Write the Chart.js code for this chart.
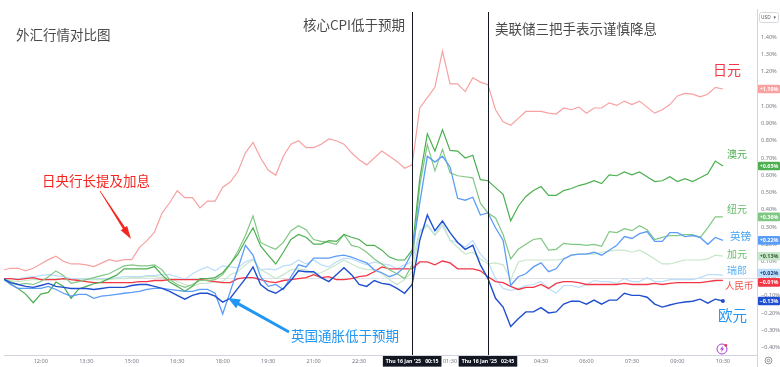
<!DOCTYPE html>
<html><head><meta charset="utf-8">
<script src="https://cdn.jsdelivr.net/npm/chart.js@4.4.1/dist/chart.umd.min.js"></script>
<style>html,body{margin:0;padding:0;background:#fff;}canvas{display:block;}</style>
</head><body>
<canvas id="c" width="780" height="367" style="width:780px;height:367px"></canvas>
<script>
// 15-minute samples starting 15 Jan 10:45 (index 0) to 16 Jan 10:30 (index 95)
const tickIdx = [5,11,17,23,29,35,41,47,54,59,64,71,77,83,89,95];
const tickLabels = ['12:00','13:30','15:00','16:30','18:00','19:30','21:00','22:30',"Thu 16 Jan '25   00:15",'01:30',"Thu 16 Jan '25   02:45",'04:30','06:00','07:30','09:00','10:30'];
const boxedTicks = [54,64];
const eventIdx = [54,64];
const yTicks = [1.4,1.3,1.2,1.1,1.0,0.9,0.8,0.7,0.6,0.5,0.4,0.3,0.2,0.1,0,-0.1,-0.2,-0.3,-0.4];

const jpy = [0.05,0.06,0.06,0.045,0.06,0.085,0.11,0.13,0.10,0.085, 0.085,0.08,0.07,0.09,0.11,0.10,0.11,0.11,0.18,0.22, 0.27,0.38,0.44,0.51,0.47,0.47,0.41,0.45,0.45,0.53, 0.56,0.62,0.73,0.79,0.70,0.63,0.60,0.71,0.78,0.80, 0.76,0.76,0.78,0.81,0.80,0.78,0.73,0.69,0.66,0.70, 0.74,0.71,0.68,0.64,0.66,0.99,1.05,1.11,1.32,1.13, 1.13,1.085,1.165,1.14,1.125,0.98,0.91,0.89,0.93,0.97, 0.97,0.97,0.96,0.955,0.99,0.98,0.995,0.96,0.99,0.99, 1.02,1.005,1.03,1.01,1.03,0.995,0.96,0.98,1.01,1.06, 1.075,1.07,1.055,1.07,1.11,1.10];
const aud = [0,-0.03,-0.057,-0.09,-0.14,-0.09,-0.08,-0.02,-0.045,-0.115, -0.06,-0.045,-0.03,-0.02,0,0.02,0.057,0.057,0.057,0.057, 0.07,0.02,-0.02,-0.045,-0.074,-0.045,0,0,0.006,0.034, 0.085,0.14,0.22,0.295,0.19,0.136,0.085,0.153,0.227,0.256, 0.24,0.2,0.2,0.22,0.216,0.256,0.24,0.227,0.193,0.193, 0.165,0.125,0.108,0.108,0.165,0.58,0.84,0.74,0.864,0.744, 0.74,0.70,0.716,0.574,0.568,0.528,0.489,0.335,0.42,0.477, 0.511,0.534,0.483,0.483,0.511,0.523,0.54,0.551,0.568,0.551, 0.602,0.597,0.619,0.602,0.619,0.591,0.563,0.568,0.591,0.563, 0.58,0.563,0.585,0.608,0.682,0.653];
const nzd = [0,-0.017,-0.034,-0.028,-0.034,-0.017,0.011,0.045,0.017,-0.028, -0.017,-0.006,0.006,0.017,0.028,0.051,0.074,0.08,0.074,0.074, 0.08,0.051,-0.006,-0.034,-0.051,-0.034,-0.011,-0.011,-0.006,0.023, 0.085,0.159,0.25,0.364,0.21,0.188,0.17,0.21,0.278,0.307, 0.284,0.227,0.216,0.21,0.199,0.256,0.193,0.182,0.153,0.114, 0.085,0.051,0.028,0,0.08,0.54,0.778,0.625,0.75,0.614, 0.597,0.591,0.585,0.438,0.381,0.352,0.256,0.114,0.17,0.199, 0.227,0.233,0.165,0.17,0.205,0.199,0.199,0.193,0.199,0.188, 0.273,0.267,0.29,0.278,0.307,0.284,0.227,0.239,0.25,0.25, 0.256,0.256,0.239,0.295,0.358,0.358];
const gbp = [0,-0.034,-0.057,-0.057,-0.057,-0.057,-0.045,-0.063,-0.085,-0.102, -0.091,-0.091,-0.114,-0.102,-0.097,-0.091,-0.085,-0.08,-0.074,-0.063, -0.057,-0.057,-0.063,-0.068,-0.074,-0.074,-0.063,-0.063,-0.085,-0.205, -0.074,0.057,0.193,0.136,0.011,-0.045,-0.034,-0.063,0.011,0.08, 0.068,0.119,0.119,0.119,0.131,0.136,0.125,0.108,0.091,0.051, 0.034,0.011,0.028,0.068,0.153,0.438,0.71,0.676,0.71,0.648, 0.466,0.455,0.472,0.369,0.381,0.295,0.222,-0.04,0.011,0.028, 0.068,0.091,0.04,0.057,0.114,0.136,0.142,0.142,0.153,0.136, 0.165,0.193,0.244,0.233,0.261,0.273,0.216,0.216,0.267,0.267, 0.244,0.25,0.239,0.199,0.239,0.222];
const eur = [0,-0.023,-0.034,-0.045,-0.051,-0.04,-0.028,-0.045,-0.051,-0.057, -0.057,-0.057,-0.063,-0.057,-0.051,-0.051,-0.051,-0.04,-0.034,-0.034, -0.045,-0.057,-0.074,-0.097,-0.119,-0.097,-0.085,-0.085,-0.102,-0.136, -0.114,-0.057,0,0.068,-0.034,-0.068,-0.085,-0.057,-0.011,0.045, 0.04,0.04,0.006,-0.017,0.023,0.063,0.023,-0.034,-0.045,-0.011, -0.028,-0.034,-0.057,-0.085,-0.034,0.222,0.369,0.278,0.335,0.267, 0.21,0.17,0.193,0.08,0,-0.114,-0.165,-0.278,-0.233,-0.193, -0.193,-0.168,-0.199,-0.193,-0.148,-0.131,-0.131,-0.148,-0.125,-0.148, -0.125,-0.125,-0.085,-0.097,-0.097,-0.108,-0.148,-0.165,-0.153,-0.142, -0.136,-0.131,-0.119,-0.142,-0.119,-0.13];
const cad = [0,-0.011,-0.017,-0.011,-0.006,-0.006,-0.006,0,-0.006,-0.006, -0.006,-0.006,-0.006,-0.006,-0.006,0,0,0.006,0.006,0.011, 0.011,0.006,0,-0.017,-0.034,-0.045,-0.028,-0.028,-0.017,-0.017, 0.023,0.04,0.08,0.108,0.051,0.028,0,0.023,0.051,0.057, 0.051,0.028,0.034,0.057,0.08,0.108,0.085,0.063,0.054,0.051, 0.028,-0.006,-0.034,-0.006,0.04,0.267,0.307,0.25,0.307,0.222, 0.182,0.142,0.153,0.114,0.085,0.091,0.08,-0.006,0.097,0.108, 0.108,0.108,0.108,0.108,0.114,0.136,0.142,0.142,0.142,0.153, 0.159,0.165,0.165,0.153,0.165,0.142,0.114,0.085,0.085,0.097, 0.108,0.108,0.108,0.114,0.136,0.13];
const chf = [0,0,0,0.006,0.011,0.017,0.023,0.017,0.011,0, 0,0,0,0,0,0.006,0.011,0.011,0.011,0.017, 0.017,0.023,0.023,0.011,-0.006,0.028,0.051,0.068,0.045,0.074, 0.068,0.063,0.097,0.114,0.051,0.057,0.051,0.074,0.08,0.108, 0.085,0.108,0.08,0.068,0.097,0.119,0.114,0.097,0.08,0.097, 0.085,0.08,0.057,0.08,0.097,0.278,0.313,0.256,0.324,0.222, 0.21,0.182,0.222,0.142,0.097,0,-0.057,-0.068,-0.057,-0.04, -0.034,-0.017,-0.057,-0.085,-0.04,-0.04,-0.051,-0.034,-0.011,-0.017, -0.017,-0.028,0,-0.017,-0.017,0.006,-0.017,-0.017,-0.006,-0.006, -0.006,-0.006,0.006,0.023,0.023,0.02];
const cny = [0,0,-0.006,0,0.006,-0.006,-0.006,-0.006,0,-0.006, -0.011,-0.017,-0.023,-0.023,-0.023,-0.023,-0.023,-0.023,-0.017,-0.017, -0.011,-0.011,-0.006,-0.006,-0.006,-0.006,-0.006,-0.011,-0.017,-0.023, -0.023,0,0.006,0.006,-0.006,-0.017,-0.023,-0.011,-0.006,0, 0.006,0.023,0.006,0.011,-0.006,-0.006,0,0.011,0.017,0.04, 0.068,0.057,0.057,0.057,0.057,0.097,0.097,0.08,0.102,0.091, 0.057,0.057,0.057,0.045,0.011,-0.017,-0.023,-0.045,-0.063,-0.051, -0.051,-0.034,-0.057,-0.028,-0.017,-0.017,-0.023,-0.034,-0.034,-0.034, -0.034,-0.034,-0.028,-0.034,-0.034,-0.034,-0.028,-0.034,-0.028,-0.023, -0.023,-0.023,-0.023,-0.017,-0.011,-0.01];

const seriesNames = ['欧元','英镑','澳元','纽元','人民币','日元','加元','瑞郎'];
const seriesValues = [eur, gbp, aud, nzd, cny, jpy, cad, chf];

// styling
const lineColors = ['#1f4fd0','#5b9cf6','#4caf50','#81c784','#f23645','#f7a1a1','#c8e6c9','#bbdefb'];
const lineWidths = [1.4,1.3,1.2,1.2,1.3,1.2,1.2,1.2];
const tagText = ['#fff','#fff','#fff','#fff','#fff','#fff','#2e5d30','#1d3d70'];
const labelColors = ['#2196f3','#42a5f5','#4caf50','#66bb6a','#f0504a','#f23645','#66bb6a','#64b5f6'];
const labelPos = [[718,315,14.5],[730,236,10.5],[727,154,10],[727,209,10],[725,285,9.5],[713,70,14],[727,254,10],[727,270,10]];

const CJK = '"Noto Sans CJK SC","Noto Sans",sans-serif';
const LAT = '"Noto Sans","DejaVu Sans",sans-serif';

function fmt(v){ const s = Math.abs(v).toFixed(2) + '%'; return v < -0.0001 ? '\u2212' + s : s; }
function fmtTag(v){ const r = Math.round(v*100)/100; return (r < 0 ? '\u2212' : '+') + Math.abs(r).toFixed(2) + '%'; }

function arrow(ctx, x1, y1, x2, y2, color, w0, w1, hl, hw){
  const a = Math.atan2(y2-y1, x2-x1);
  const c = Math.cos(a), s = Math.sin(a);
  const bx = x2 - hl*c, by = y2 - hl*s;
  ctx.fillStyle = color;
  ctx.beginPath();
  ctx.moveTo(x1 + w0*s, y1 - w0*c);
  ctx.lineTo(bx + w1*s, by - w1*c);
  ctx.lineTo(bx + hw*s, by - hw*c);
  ctx.lineTo(x2, y2);
  ctx.lineTo(bx - hw*s, by + hw*c);
  ctx.lineTo(bx - w1*s, by + w1*c);
  ctx.lineTo(x1 - w0*s, y1 + w0*c);
  ctx.closePath();
  ctx.fill();
}

const overlay = {
  id: 'overlay',
  afterDatasetsDraw(chart){
    const ctx = chart.ctx, xs = chart.scales.x;
    ctx.save();
    ctx.strokeStyle = '#131722'; ctx.lineWidth = 1;
    eventIdx.forEach(i => {
      const x = Math.round(xs.getPixelForValue(i)) + 0.5;
      ctx.beginPath(); ctx.moveTo(x, 12); ctx.lineTo(x, chart.chartArea.bottom); ctx.stroke();
    });
    ctx.restore();
  },
  afterDraw(chart){
    const ctx = chart.ctx, ys = chart.scales.y, area = chart.chartArea;
    ctx.save();
    // right axis line
    ctx.strokeStyle = '#d1d4dc'; ctx.lineWidth = 1;
    ctx.beginPath(); ctx.moveTo(area.right + 0.5, 9); ctx.lineTo(area.right + 0.5, 367); ctx.stroke();
    // USD box
    ctx.strokeStyle = '#d6d8de';
    ctx.beginPath(); ctx.roundRect(759.5, 12.5, 19, 10, 2); ctx.stroke();
    ctx.fillStyle = '#555'; ctx.font = '4.8px ' + LAT; ctx.textBaseline = 'middle'; ctx.textAlign = 'left';
    ctx.fillText('USD', 761, 17.8);
    ctx.fillText('\u25BE', 773.5, 17.8);

    // tags
    const tags = seriesValues.map((vals, k) => ({k, v: vals[vals.length-1], y: ys.getPixelForValue(vals[vals.length-1])}));
    tags.sort((a,b) => a.y - b.y);
    const H = 9.2;
    for (let it = 0; it < 20; it++) {
      for (let j = 1; j < tags.length; j++) {
        const d = tags[j].y - tags[j-1].y;
        if (d < H) { const p = (H - d)/2; tags[j].y += p; tags[j-1].y -= p; }
      }
    }
    tags.forEach(t => {
      ctx.fillStyle = lineColors[t.k];
      ctx.beginPath(); ctx.roundRect(area.right + 1, t.y - H/2 + 0.3, 22, H - 0.6, 1); ctx.fill();
      ctx.fillStyle = tagText[t.k]; ctx.font = 'bold 5.4px ' + LAT; ctx.textAlign = 'center'; ctx.textBaseline = 'middle';
      ctx.fillText(fmtTag(t.v), area.right + 12, t.y + 0.3);
    });

    // series labels
    ctx.textAlign = 'left'; ctx.textBaseline = 'middle';
    seriesNames.forEach((n, k) => {
      const p = labelPos[k];
      ctx.fillStyle = labelColors[k]; ctx.font = p[2] + 'px ' + CJK;
      ctx.fillText(n, p[0], p[1]);
    });

    // annotations
    ctx.font = '13.5px ' + CJK;
    ctx.fillStyle = '#4a4a4a';
    ctx.fillText('外汇行情对比图', 16, 35);
    ctx.textAlign = 'right';
    ctx.fillText('核心CPI低于预期', 405, 25);
    ctx.textAlign = 'left';
    ctx.fillText('美联储三把手表示谨慎降息', 495, 28.5);
    ctx.fillStyle = '#f5251f';
    ctx.fillText('日央行长提及加息', 42, 181);
    ctx.fillStyle = '#2196f3';
    ctx.fillText('英国通胀低于预期', 291, 336);

    arrow(ctx, 100, 191, 131, 239, '#f5251f', 0.3, 1.3, 13, 3.8);
    arrow(ctx, 289, 332, 228, 298, '#2196f3', 1.3, 1.5, 12, 5);

    // lightning icon
    ctx.strokeStyle = '#a640d8'; ctx.lineWidth = 1;
    ctx.beginPath(); ctx.arc(722, 349, 5, 0, Math.PI*2); ctx.stroke();
    ctx.fillStyle = '#a640d8';
    ctx.beginPath(); ctx.moveTo(723.2,345.5); ctx.lineTo(720,349.6); ctx.lineTo(722,349.6); ctx.lineTo(720.8,352.6); ctx.lineTo(724.2,348.4); ctx.lineTo(722.2,348.4); ctx.closePath(); ctx.fill();
    ctx.fillStyle = '#f23645';
    ctx.beginPath(); ctx.arc(725.8, 345.4, 1.4, 0, Math.PI*2); ctx.fill();
    // gear icon
    ctx.strokeStyle = '#787b86'; ctx.lineWidth = 0.8;
    ctx.beginPath(); ctx.arc(768.5, 360.5, 3.4, 0, Math.PI*2); ctx.stroke();
    ctx.beginPath(); ctx.arc(768.5, 360.5, 1.3, 0, Math.PI*2); ctx.stroke();
    ctx.restore();
  }
};

const datasets = seriesValues.map((vals, k) => ({
  label: seriesNames[k],
  data: vals.map((v, i) => ({x: i, y: v})),
  borderColor: lineColors[k],
  backgroundColor: lineColors[k],
  borderWidth: lineWidths[k],
  pointRadius: k === 0 ? (c => c.dataIndex === vals.length - 1 ? 2 : 0) : 0,
  pointBorderWidth: 0,
  tension: 0,
  fill: false
}));

new Chart(document.getElementById('c'), {
  type: 'line',
  data: { datasets },
  options: {
    responsive: false, animation: false, devicePixelRatio: 1,
    layout: { padding: 0 },
    plugins: { legend: { display: false }, tooltip: { enabled: false } },
    scales: {
      x: {
        type: 'linear', min: 0.144, max: 99.5,
        grid: { display: false, drawTicks: false, tickLength: 0 },
        border: { display: true, color: '#d1d4dc', width: 1 },
        afterBuildTicks: s => { s.ticks = tickIdx.map(v => ({value: v})); },
        afterFit: s => { s.height = 12; },
        ticks: {
          autoSkip: false, maxRotation: 0, padding: 3.2,
          font: c => ({ family: LAT, size: boxedTicks.includes(c.tick && c.tick.value) ? 5.2 : 5.6, weight: boxedTicks.includes(c.tick && c.tick.value) ? 'bold' : 'normal' }),
          color: c => boxedTicks.includes(c.tick && c.tick.value) ? '#ffffff' : '#787b86',
          showLabelBackdrop: true,
          backdropColor: c => boxedTicks.includes(c.tick && c.tick.value) ? '#131722' : 'rgba(0,0,0,0)',
          backdropPadding: { x: 3, y: 2.2 },
          callback: v => { const k = tickIdx.indexOf(v); return k >= 0 ? tickLabels[k] : ''; }
        }
      },
      y: {
        position: 'right', min: -0.4432, max: 1.5739,
        afterBuildTicks: s => { s.ticks = yTicks.map(v => ({value: v})); },
        afterFit: s => { s.width = 23; },
        border: { display: false },
        grid: { drawTicks: false, color: c => (c.tick && Math.abs(c.tick.value) < 1e-9) ? '#dfe1e6' : 'rgba(0,0,0,0)', lineWidth: 1 },
        ticks: {
          padding: 4, color: '#787b86',
          font: { family: LAT, size: 5.6 },
          callback: v => fmt(v)
        }
      }
    }
  },
  plugins: [overlay]
});
</script>
</body></html>
